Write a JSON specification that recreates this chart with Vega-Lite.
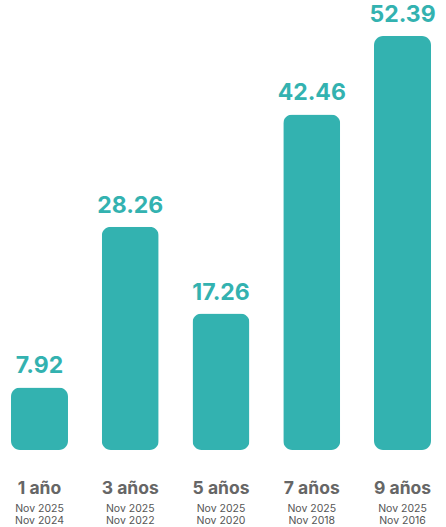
{
  "$schema": "https://vega.github.io/schema/vega-lite/v6.json",
  "width": 420,
  "height": 414,
  "autosize": {"type": "none"},
  "padding": {"top": 36, "left": 11, "right": 15, "bottom": 77},
  "background": "white",
  "config": {"view": {"stroke": null}, "font": "Inter"},
  "data": {
    "values": [
      {"key": "1 año|Nov 2025|Nov 2024", "valor": 7.92},
      {"key": "3 años|Nov 2025|Nov 2022", "valor": 28.26},
      {"key": "5 años|Nov 2025|Nov 2020", "valor": 17.26},
      {"key": "7 años|Nov 2025|Nov 2018", "valor": 42.46},
      {"key": "9 años|Nov 2025|Nov 2016", "valor": 52.39}
    ]
  },
  "layer": [
    {
      "mark": {"type": "bar", "color": "#33b2b0", "cornerRadius": 9},
      "encoding": {
        "x": {
          "field": "key", "type": "nominal", "sort": null,
          "scale": {"paddingInner": 0.372, "paddingOuter": 0},
          "axis": {
            "orient": "bottom",
            "title": null, "domain": false, "ticks": false, "labelAngle": 0,
            "labelExpr": "split(datum.label, '|')[0]",
            "labelFont": "Inter", "labelFontSize": 17.5, "labelFontWeight": "bold",
            "labelColor": "#666666", "labelPadding": 29, "labelBaseline": "top"
          }
        },
        "y": {
          "field": "valor", "type": "quantitative",
          "scale": {"domain": [0, 52.39], "nice": false},
          "axis": null
        }
      }
    },
    {
      "mark": {"type": "text", "color": "#33b2b0", "fontSize": 23, "fontWeight": "bold", "baseline": "alphabetic", "dy": -14, "font": "Inter"},
      "encoding": {
        "x": {
          "field": "key", "type": "nominal", "sort": null,
          "axis": {
            "orient": "bottom",
            "title": null, "domain": false, "ticks": false, "labelAngle": 0,
            "labelExpr": "[split(datum.label, '|')[1], split(datum.label, '|')[2]]",
            "labelFont": "Inter", "labelFontSize": 10.5, "labelLineHeight": 12.5,
            "labelColor": "#555555", "labelPadding": 53, "labelBaseline": "top"
          }
        },
        "y": {"field": "valor", "type": "quantitative"},
        "text": {"field": "valor", "type": "quantitative", "format": ".2f"}
      }
    }
  ],
  "resolve": {"axis": {"x": "independent"}}
}
